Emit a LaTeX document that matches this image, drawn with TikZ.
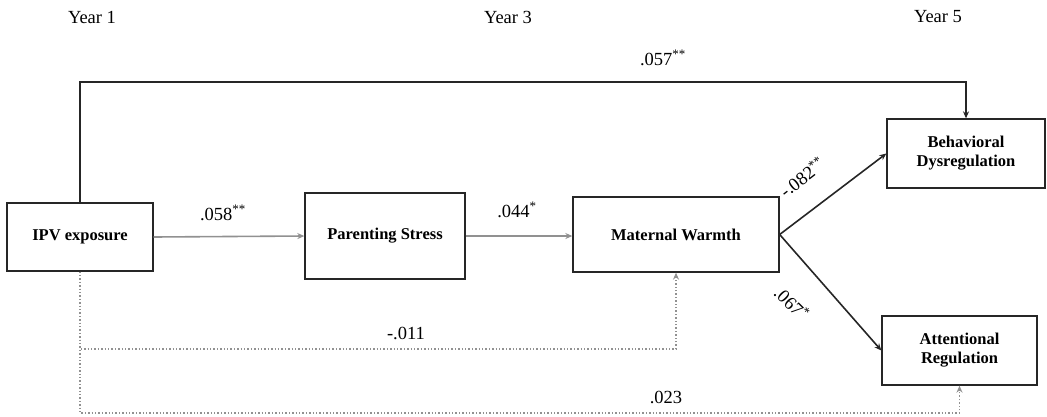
\documentclass[tikz,border=0pt]{standalone}
\usepackage{fontspec}
\setmainfont{Liberation Serif}
\usetikzlibrary{arrows.meta}
\definecolor{lgray}{RGB}{145,145,145}
\tikzset{
  box/.style={draw=black!85, line width=1.3pt, fill=white, align=center,
    inner sep=0pt, font=\fontsize{16.5}{19}\selectfont\bfseries},
  yearlbl/.style={font=\fontsize{18.5}{20}\selectfont, inner sep=0pt},
  coef/.style={font=\fontsize{18.5}{20}\selectfont, inner sep=0pt},
  blk/.style={draw=black!85, line width=1.6pt, -{Stealth[length=7pt,width=6pt]}},
  gry/.style={draw=lgray, line width=1.6pt, -{Stealth[length=7pt,width=6pt]}},
  dot/.style={draw=lgray, line width=1.4pt, dotted, -{Stealth[length=7pt,width=6pt]}}
}
\begin{document}
\begin{tikzpicture}[x=1pt,y=1pt]
\useasboundingbox (0,0) rectangle (1047,-416);
% year labels
\node[yearlbl] (y1) at (92,-17) {Year 1};
\node[yearlbl] (y3) at (508,-17) {Year 3};
\node[yearlbl] (y5) at (938,-17) {Year 5};
% boxes
\node[box, minimum width=146pt, minimum height=68pt] (ipv) at (80,-237) {IPV exposure};
\node[box, minimum width=160pt, minimum height=86pt] (ps) at (385,-236) {Parenting Stress};
\node[box, minimum width=206pt, minimum height=75pt] (mw) at (676,-234.5) {Maternal Warmth};
\node[box, minimum width=158pt, minimum height=69pt] (bd) at (966,-153.5) {Behavioral\\Dysregulation};
\node[box, minimum width=155pt, minimum height=69pt] (ar) at (959.5,-350.5) {Attentional\\Regulation};
% routing coordinates
\coordinate (tl) at (80,-82);
\coordinate (tr) at (966,-82);
\coordinate (d1l) at (80,-349);
\coordinate (d1r) at (676,-349);
\coordinate (d2l) at (80,-413);
\coordinate (d2r) at (959.5,-413);
% connectors
\draw[blk] (ipv.north) -- (tl) -- (tr) -- (bd.north);
\draw[gry] (ipv.east) -- (ps.west);
\draw[gry] (ps.east) -- (ps.east -| mw.west);
\draw[blk] (mw.east) -- (bd.west);
\draw[blk] (mw.east) -- (ar.west);
\draw[dot] (ipv.south) -- (d1l) -- (d1r) -- (mw.south);
\draw[dot] (ipv.south) -- (d2l) -- (d2r) -- (ar.south);
% coefficients
\node[coef] (c057) at (663,-58) {.057\textsuperscript{**}};
\node[coef] (c058) at (223,-213) {.058\textsuperscript{**}};
\node[coef] (c044) at (517,-210) {.044\textsuperscript{*}};
\node[coef, rotate=38] (c082) at (802,-177) {-.082\textsuperscript{**}};
\node[coef, rotate=-45] (c067) at (792,-303) {.067\textsuperscript{*}};
\node[coef] (c011) at (406,-333) {-.011};
\node[coef] (c023) at (666,-397) {.023};
\end{tikzpicture}
\end{document}
